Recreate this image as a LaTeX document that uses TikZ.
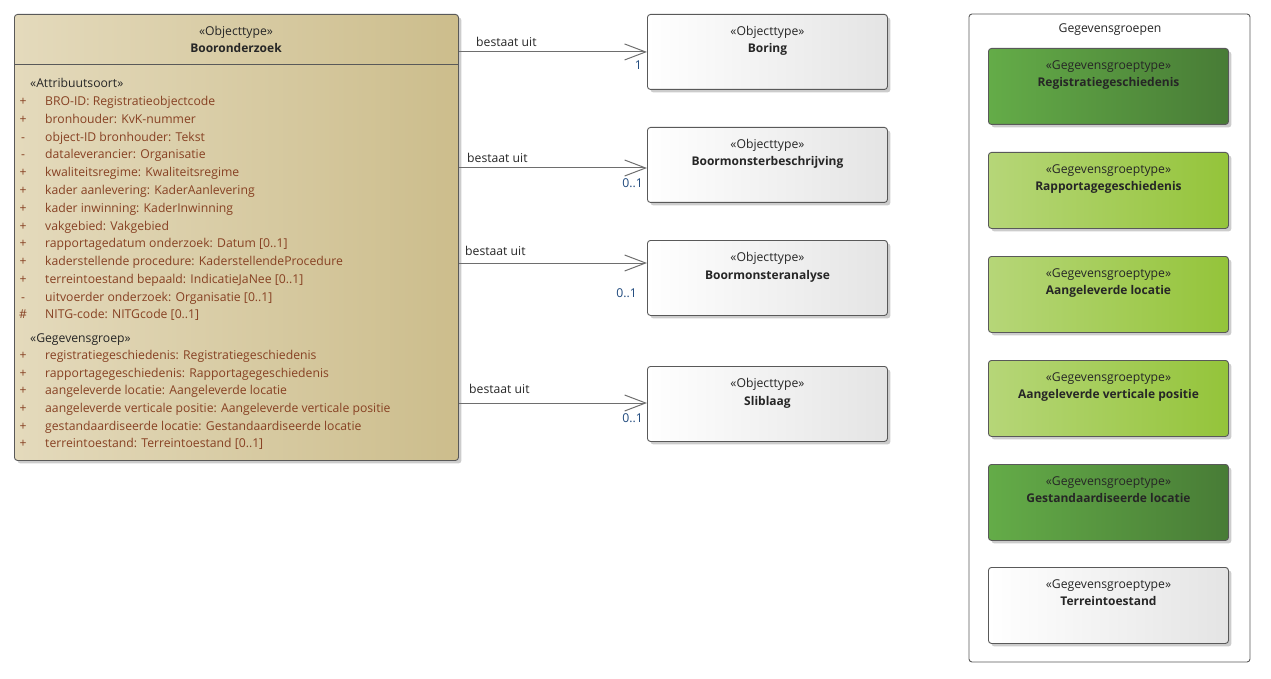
\documentclass[tikz,border=0pt]{standalone}
\usepackage{fontspec}
\setmainfont{Open Sans}
\usepackage{tikz}
\usetikzlibrary{positioning}
\usetikzlibrary{shadows}
\usetikzlibrary{arrows.meta}

\definecolor{tanleft}{RGB}{228,218,188}
\definecolor{tanright}{RGB}{204,189,140}
\definecolor{greyright}{RGB}{228,228,228}
\definecolor{darkleft}{RGB}{100,172,72}
\definecolor{darkright}{RGB}{72,124,54}
\definecolor{lightleft}{RGB}{182,214,120}
\definecolor{lightright}{RGB}{148,196,58}
\definecolor{attrcol}{RGB}{135,65,35}
\definecolor{multcol}{RGB}{31,73,125}
\definecolor{linecol}{RGB}{110,110,110}

\begin{document}
\begin{tikzpicture}[x=1pt,y=-1pt,
  every node/.style={inner sep=0pt,font=\fontsize{12.2}{14}\selectfont},
  klasse/.style={draw=black!65,line width=0.9pt,rounded corners=3pt,anchor=north west,
    drop shadow={shadow xshift=3pt,shadow yshift=-3pt,opacity=0.2,fill=black}},
  objbox/.style={klasse,minimum width=240pt,minimum height=75pt,left color=white,right color=greyright},
  darkbox/.style={klasse,minimum width=240pt,minimum height=76pt,left color=darkleft,right color=darkright},
  lightbox/.style={klasse,minimum width=240pt,minimum height=76pt,left color=lightleft,right color=lightright},
  whitebox/.style={klasse,minimum width=240pt,minimum height=76pt,left color=white,right color=greyright},
  stereo/.style={anchor=base,text=black!85},
  naam/.style={anchor=base,text=black!85,font=\fontsize{12}{14}\selectfont\bfseries},
  attr/.style={anchor=base west,text=attrcol},
  vis/.style={anchor=base,text=attrcol},
  lbl/.style={anchor=base west,text=black!85},
  mult/.style={anchor=base east,text=multcol},
  assoc/.style={draw=linecol,line width=1pt,-{Straight Barb[length=21pt,width=16pt]}}]

\useasboundingbox (0,0) rectangle (1271,679);

% hoofdklasse
\node[klasse,minimum width=444pt,minimum height=446pt,left color=tanleft,right color=tanright] (booronderzoek) at (14,14) {};
\draw[black!65,line width=0.9pt] (14,64) -- (458,64);
\node[stereo] (bo-st) at (236,36) {«Objecttype»};
\node[naam] (bo-naam) at (236,53) {Booronderzoek};

\node[lbl] (attribuutsoort) at (30,88) {«Attribuutsoort»};
\foreach \v/\t [count=\i] in {
  +/{BRO-ID: Registratieobjectcode},
  +/{bronhouder: KvK-nummer},
  -/{object-ID bronhouder: Tekst},
  -/{dataleverancier: Organisatie},
  +/{kwaliteitsregime: Kwaliteitsregime},
  +/{kader aanlevering: KaderAanlevering},
  +/{kader inwinning: KaderInwinning},
  +/{vakgebied: Vakgebied},
  +/{rapportagedatum onderzoek: Datum [0..1]},
  +/{kaderstellende procedure: KaderstellendeProcedure},
  +/{terreintoestand bepaald: IndicatieJaNee [0..1]},
  -/{uitvoerder onderzoek: Organisatie [0..1]},
  \#/{NITG-code: NITGcode [0..1]}}
{
  \node[vis] (vis\i) at (23,88+17.75*\i) {\v};
  \node[attr] (att\i) at (45,88+17.75*\i) {\t};
}

\node[lbl] (gegevensgroep) at (30,342) {«Gegevensgroep»};
\foreach \t [count=\i] in {
  {registratiegeschiedenis: Registratiegeschiedenis},
  {rapportagegeschiedenis: Rapportagegeschiedenis},
  {aangeleverde locatie: Aangeleverde locatie},
  {aangeleverde verticale positie: Aangeleverde verticale positie},
  {gestandaardiseerde locatie: Gestandaardiseerde locatie},
  {terreintoestand: Terreintoestand [0..1]}}
{
  \node[vis] (gvis\i) at (23,342+17.6*\i) {+};
  \node[attr] (gatt\i) at (45,342+17.6*\i) {\t};
}

% objecttypen
\node[objbox] (boring) at (647,14) {};
\node[objbox] (beschrijving) at (647,127) {};
\node[objbox] (analyse) at (647,240) {};
\node[objbox] (sliblaag) at (647,366) {};
\foreach \n/\naam in {boring/Boring,beschrijving/Boormonsterbeschrijving,analyse/Boormonsteranalyse,sliblaag/Sliblaag}
{
  \node[stereo] (\n-st) at ([yshift=-21.5pt]\n.north) {«Objecttype»};
  \node[naam] (\n-naam) at ([yshift=-39pt]\n.north) {\naam};
}

% associaties
\draw[assoc] (booronderzoek.east |- boring.west) -- (boring.west);
\draw[assoc] (booronderzoek.east |- 0,168) -- (beschrijving.west |- 0,168);
\draw[assoc] (booronderzoek.east |- 0,263) -- (analyse.west |- 0,263);
\draw[assoc] (booronderzoek.east |- 0,403) -- (sliblaag.west |- 0,403);

\node[lbl] (lbl1) at (476,46.5) {bestaat uit};
\node[lbl] (lbl2) at (467,162.5) {bestaat uit};
\node[lbl] (lbl3) at (465,255.5) {bestaat uit};
\node[lbl] (lbl4) at (469,393.5) {bestaat uit};
\node[mult] (m1) at (642,69.5) {1};
\node[mult] (m2) at (643,187.5) {0..1};
\node[mult] (m3) at (637,297.5) {0..1};
\node[mult] (m4) at (643,422.5) {0..1};

% gegevensgroepen
\draw[black!65,line width=0.9pt,rounded corners=3pt,fill=white] (969,14) rectangle (1250,662);
\node[stereo] (groepen) at (1110,32.5) {Gegevensgroepen};

\node[darkbox] (registratie) at (988,48) {};
\node[lightbox] (rapportage) at (988,152) {};
\node[lightbox] (aangeleverd) at (988,256) {};
\node[lightbox] (verticaal) at (988,360) {};
\node[darkbox] (gestandaard) at (988,464) {};
\node[whitebox] (terrein) at (988,567) {};
\foreach \n/\naam in {registratie/Registratiegeschiedenis,rapportage/Rapportagegeschiedenis,
  aangeleverd/Aangeleverde locatie,verticaal/Aangeleverde verticale positie,
  gestandaard/Gestandaardiseerde locatie,terrein/Terreintoestand}
{
  \node[stereo] (\n-st) at ([yshift=-21.5pt]\n.north) {«Gegevensgroeptype»};
  \node[naam] (\n-naam) at ([yshift=-38.5pt]\n.north) {\naam};
}
\end{tikzpicture}
\end{document}
